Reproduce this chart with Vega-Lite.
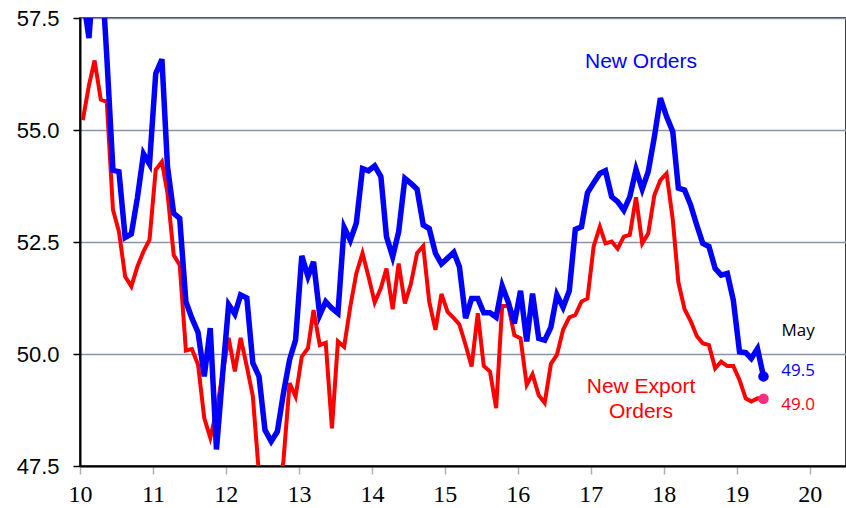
{
  "$schema": "https://vega.github.io/schema/vega-lite/v6.json",
  "width": 766,
  "height": 448,
  "autosize": "none",
  "padding": {"left": 80, "top": 18, "right": 0, "bottom": 42},
  "background": "white",
  "config": {
    "view": {"stroke": "black", "strokeWidth": 1.5},
    "font": "Liberation Sans"
  },
  "datasets": {
    "pmi": [
      {"d":"2010-01-15","no":58.0,"ex":55.22},{"d":"2010-02-15","no":57.05,"ex":56.0},{"d":"2010-03-15","no":58.8,"ex":56.55},{"d":"2010-04-15","no":58.9,"ex":55.68},{"d":"2010-05-15","no":56.65,"ex":55.63},{"d":"2010-06-15","no":54.1,"ex":53.22},{"d":"2010-07-15","no":54.07,"ex":52.73},{"d":"2010-08-15","no":52.6,"ex":51.73},{"d":"2010-09-15","no":52.68,"ex":51.51},{"d":"2010-10-15","no":53.48,"ex":51.95},{"d":"2010-11-15","no":54.47,"ex":52.29},{"d":"2010-12-15","no":54.24,"ex":52.55},
      {"d":"2011-01-15","no":56.26,"ex":54.11},{"d":"2011-02-15","no":56.58,"ex":54.29},{"d":"2011-03-15","no":54.18,"ex":53.59},{"d":"2011-04-15","no":53.14,"ex":52.21},{"d":"2011-05-15","no":53.03,"ex":51.99},{"d":"2011-06-15","no":51.17,"ex":50.08},{"d":"2011-07-15","no":50.8,"ex":50.11},{"d":"2011-08-15","no":50.48,"ex":49.76},{"d":"2011-09-15","no":49.5,"ex":48.57},{"d":"2011-10-15","no":50.58,"ex":48.13},{"d":"2011-11-15","no":47.87,"ex":48.72},{"d":"2011-12-15","no":49.5,"ex":49.54},
      {"d":"2012-01-15","no":51.1,"ex":50.36},{"d":"2012-02-15","no":50.89,"ex":49.61},{"d":"2012-03-15","no":51.32,"ex":50.36},{"d":"2012-04-15","no":51.25,"ex":49.72},{"d":"2012-05-15","no":49.8,"ex":49.06},{"d":"2012-06-15","no":49.5,"ex":47.3},{"d":"2012-07-15","no":48.3,"ex":46.8},{"d":"2012-08-15","no":48.05,"ex":46.6},{"d":"2012-09-15","no":48.27,"ex":46.9},{"d":"2012-10-15","no":49.12,"ex":47.6},{"d":"2012-11-15","no":49.87,"ex":49.35},{"d":"2012-12-15","no":50.31,"ex":49.05},
      {"d":"2013-01-15","no":52.19,"ex":49.94},{"d":"2013-02-15","no":51.73,"ex":50.13},{"d":"2013-03-15","no":52.06,"ex":50.98},{"d":"2013-04-15","no":50.87,"ex":50.2},{"d":"2013-05-15","no":51.17,"ex":50.25},{"d":"2013-06-15","no":51.02,"ex":48.34},{"d":"2013-07-15","no":50.91,"ex":50.28},{"d":"2013-08-15","no":52.83,"ex":50.16},{"d":"2013-09-15","no":52.54,"ex":51.06},{"d":"2013-10-15","no":52.92,"ex":51.8},{"d":"2013-11-15","no":54.14,"ex":52.25},{"d":"2013-12-15","no":54.09,"ex":51.73},
      {"d":"2014-01-15","no":54.2,"ex":51.15},{"d":"2014-02-15","no":53.96,"ex":51.47},{"d":"2014-03-15","no":52.62,"ex":51.91},{"d":"2014-04-15","no":52.17,"ex":51.0},{"d":"2014-05-15","no":52.73,"ex":52.02},{"d":"2014-06-15","no":53.92,"ex":51.13},{"d":"2014-07-15","no":53.81,"ex":51.56},{"d":"2014-08-15","no":53.68,"ex":52.25},{"d":"2014-09-15","no":52.88,"ex":52.41},{"d":"2014-10-15","no":52.8,"ex":51.17},{"d":"2014-11-15","no":52.25,"ex":50.54},{"d":"2014-12-15","no":52.01,"ex":51.34},
      {"d":"2015-01-15","no":52.14,"ex":50.94},{"d":"2015-02-15","no":52.27,"ex":50.8},{"d":"2015-03-15","no":51.95,"ex":50.66},{"d":"2015-04-15","no":50.8,"ex":50.2},{"d":"2015-05-15","no":51.24,"ex":49.72},{"d":"2015-06-15","no":51.24,"ex":50.91},{"d":"2015-07-15","no":50.92,"ex":49.73},{"d":"2015-08-15","no":50.92,"ex":49.61},{"d":"2015-09-15","no":50.82,"ex":48.79},{"d":"2015-10-15","no":51.52,"ex":51.07},{"d":"2015-11-15","no":51.15,"ex":51.07},{"d":"2015-12-15","no":50.68,"ex":50.42},
      {"d":"2016-01-15","no":51.41,"ex":50.35},{"d":"2016-02-15","no":50.28,"ex":49.31},{"d":"2016-03-15","no":51.35,"ex":49.55},{"d":"2016-04-15","no":50.35,"ex":49.08},{"d":"2016-05-15","no":50.31,"ex":48.91},{"d":"2016-06-15","no":50.6,"ex":49.78},{"d":"2016-07-15","no":51.32,"ex":49.98},{"d":"2016-08-15","no":51.04,"ex":50.54},{"d":"2016-09-15","no":51.41,"ex":50.82},{"d":"2016-10-15","no":52.78,"ex":50.87},{"d":"2016-11-15","no":52.84,"ex":51.17},{"d":"2016-12-15","no":53.6,"ex":51.24},
      {"d":"2017-01-15","no":53.82,"ex":52.4},{"d":"2017-02-15","no":54.03,"ex":52.84},{"d":"2017-03-15","no":54.09,"ex":52.47},{"d":"2017-04-15","no":53.51,"ex":52.51},{"d":"2017-05-15","no":53.4,"ex":52.35},{"d":"2017-06-15","no":53.21,"ex":52.62},{"d":"2017-07-15","no":53.51,"ex":52.66},{"d":"2017-08-15","no":54.12,"ex":53.5},{"d":"2017-09-15","no":53.68,"ex":52.47},{"d":"2017-10-15","no":54.07,"ex":52.69},{"d":"2017-11-15","no":54.85,"ex":53.55},{"d":"2017-12-15","no":55.71,"ex":53.88},
      {"d":"2018-01-15","no":55.3,"ex":54.03},{"d":"2018-02-15","no":54.96,"ex":53.0},{"d":"2018-03-15","no":53.7,"ex":51.6},{"d":"2018-04-15","no":53.66,"ex":51.0},{"d":"2018-05-15","no":53.33,"ex":50.74},{"d":"2018-06-15","no":52.88,"ex":50.4},{"d":"2018-07-15","no":52.47,"ex":50.24},{"d":"2018-08-15","no":52.4,"ex":50.2},{"d":"2018-09-15","no":51.91,"ex":49.68},{"d":"2018-10-15","no":51.76,"ex":49.83},{"d":"2018-11-15","no":51.8,"ex":49.73},{"d":"2018-12-15","no":51.2,"ex":49.73},
      {"d":"2019-01-15","no":50.05,"ex":49.42},{"d":"2019-02-15","no":50.03,"ex":49.01},{"d":"2019-03-15","no":49.9,"ex":48.94},{"d":"2019-04-15","no":50.12,"ex":49.01},{"d":"2019-05-15","no":49.5,"ex":49.0}
    ],
    "blueText": [
      {"d":"2017-09-09","y":56.52,"label":"New Orders"}
    ],
    "redText": [
      {"d":"2017-09-09","y":49.26,"label":"New Export"},
      {"d":"2017-09-09","y":48.7,"label":"Orders"}
    ],
    "endLabels": [
      {"d":"2019-11-04","y":50.51,"label":"May","series":"month"},
      {"d":"2019-11-04","y":49.63,"label":"49.5","series":"New Orders"},
      {"d":"2019-11-04","y":48.87,"label":"49.0","series":"New Export Orders"}
    ]
  },
  "encoding": {
    "x": {
      "field": "d",
      "type": "temporal",
      "scale": {
        "type": "utc",
        "domain": [{"year":2010,"month":1,"date":1,"utc":true},{"year":2020,"month":7,"date":1,"utc":true}]
      },
      "axis": {
        "title": null,
        "values": [{"year":2010,"utc":true},{"year":2011,"utc":true},{"year":2012,"utc":true},{"year":2013,"utc":true},{"year":2014,"utc":true},{"year":2015,"utc":true},{"year":2016,"utc":true},{"year":2017,"utc":true},{"year":2018,"utc":true},{"year":2019,"utc":true},{"year":2020,"utc":true}],
        "labelExpr": "utcFormat(datum.value, '%y')",
        "grid": false,
        "domainColor": "black",
        "domainWidth": 2,
        "tickColor": "#b0b0b0",
        "tickSize": 8,
        "tickWidth": 1.5,
        "labelFont": "Liberation Sans Narrow",
        "labelFontSize": 24,
        "labelColor": "black",
        "labelPadding": 8,
        "labelFlush": false
      }
    }
  },
  "layer": [
    {
      "data": {"name": "pmi"},
      "mark": {"type": "line", "color": "#ff0000", "strokeWidth": 4, "clip": true},
      "encoding": {
        "y": {
          "field": "ex",
          "type": "quantitative",
          "scale": {"domain": [47.5, 57.5], "nice": false, "zero": false},
          "axis": {
            "title": null,
            "values": [47.5, 50, 52.5, 55, 57.5],
            "format": ".1f",
            "grid": true,
            "gridColor": "#8a93a8",
            "gridWidth": 1.5,
            "domainColor": "black",
            "domainWidth": 2,
            "tickColor": "black",
            "tickSize": 7,
            "tickWidth": 1.5,
            "labelFont": "Liberation Sans",
            "labelFontSize": 22,
            "labelColor": "black",
            "labelPadding": 14,
            "labelFlush": false
          }
        }
      }
    },
    {
      "data": {"name": "pmi"},
      "mark": {"type": "line", "color": "#0000ff", "strokeWidth": 5.5, "clip": true},
      "encoding": {
        "y": {"field": "no", "type": "quantitative"}
      }
    },
    {
      "data": {"name": "pmi"},
      "transform": [{"filter": "utcyear(datum.d) == 2019 && utcmonth(datum.d) == 4"}],
      "mark": {"type": "point", "filled": true, "opacity": 1, "color": "#0000ff", "size": 110},
      "encoding": {"y": {"field": "no", "type": "quantitative"}}
    },
    {
      "data": {"name": "pmi"},
      "transform": [{"filter": "utcyear(datum.d) == 2019 && utcmonth(datum.d) == 4"}],
      "mark": {"type": "point", "filled": true, "opacity": 1, "color": "#ff2d7d", "size": 110},
      "encoding": {"y": {"field": "ex", "type": "quantitative"}}
    },
    {
      "data": {"name": "blueText"},
      "mark": {"type": "text", "color": "#0000ff", "font": "Liberation Sans", "fontSize": 21, "align": "center", "baseline": "middle"},
      "encoding": {"y": {"field": "y", "type": "quantitative"}, "text": {"field": "label"}}
    },
    {
      "data": {"name": "redText"},
      "mark": {"type": "text", "color": "#ff0000", "font": "Liberation Sans", "fontSize": 21, "align": "center", "baseline": "middle"},
      "encoding": {"y": {"field": "y", "type": "quantitative"}, "text": {"field": "label"}}
    },
    {
      "data": {"name": "endLabels"},
      "mark": {"type": "text", "font": "Open Sans", "fontSize": 17, "align": "center", "baseline": "middle"},
      "encoding": {
        "y": {"field": "y", "type": "quantitative"},
        "text": {"field": "label"},
        "color": {
          "field": "series",
          "type": "nominal",
          "scale": {"domain": ["month", "New Orders", "New Export Orders"], "range": ["#000000", "#0000ff", "#ff0000"]},
          "legend": null
        }
      }
    }
  ]
}
